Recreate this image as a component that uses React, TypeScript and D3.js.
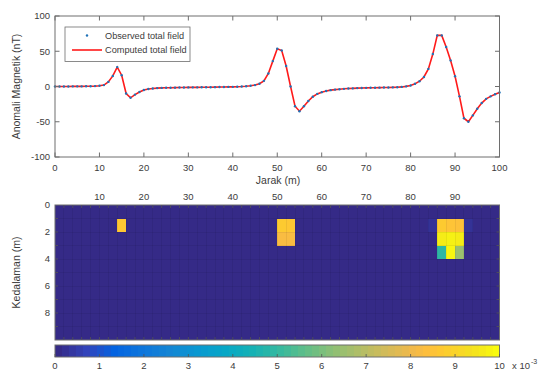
import * as d3 from 'd3';

// distance along profile (m), one reading per metre
const distance = d3.range(0, 101, 1);

const observedField = [
  0.1, 0.1, 0.1, 0.1, 0.2, 0.2, 0.2, 0.3, 0.4, 0.6,
  1.0, 2.0, 6.5, 15.0, 27.5, 16.0, -10.0, -16.0, -11.5, -7.8,
  -5.0, -3.6, -2.8, -2.3, -2.0, -1.8, -1.7, -1.6, -1.5, -1.4,
  -1.3, -1.2, -1.2, -1.1, -1.0, -1.0, -0.9, -0.8, -0.7, -0.6,
  -0.5, -0.3, -0.1, 0.3, 1.0, 2.0, 4.0, 8.0, 18.5, 36.0,
  53.5, 51.0, 29.0, 0.0, -28.0, -35.0, -28.0, -20.5, -14.5, -10.5,
  -8.0, -6.3, -5.2, -4.4, -3.8, -3.3, -2.9, -2.6, -2.3, -2.1,
  -1.9, -1.8, -1.7, -1.6, -1.5, -1.4, -1.2, -1.0, -0.6, 0.2,
  1.5, 3.8, 7.5, 13.5, 25.0, 46.0, 72.5, 72.5, 56.0, 37.0,
  14.5, -14.0, -45.0, -50.0, -41.0, -31.5, -23.5, -17.5, -14.0, -11.0,
  -8.5,
];
// computed field from the inversion (fits the observations)
const computedField = observedField.slice();

const xTicks = [0, 10, 20, 30, 40, 50, 60, 70, 80, 90, 100];
const yTicks = [-100, -50, 0, 50, 100];

// susceptibility model: 2 m x 1 m cells, background 0
const cellWidth = 2;
const cellDepth = 1;
const gridX = d3.range(0, 100, cellWidth);
const gridZ = d3.range(0, 10, cellDepth);
const anomalyX = [14, 84, 92, 50, 52, 50, 52, 86, 88, 90, 86, 88, 90, 86, 88, 90];
const anomalyZ = [1, 1, 1, 1, 1, 2, 2, 1, 1, 1, 2, 2, 2, 3, 3, 3];
const anomalyValue = [
  0.0087, 0.0002, 0.0002, 0.0088, 0.0087, 0.0083, 0.0083,
  0.0088, 0.0086, 0.0085, 0.0097, 0.0098, 0.0097, 0.0049, 0.0099, 0.0065,
];
const depthTicks = [0, 2, 4, 6, 8];
const topTicks = [10, 20, 30, 40, 50, 60, 70, 80, 90];
const colorTicks = [0, 1, 2, 3, 4, 5, 6, 7, 8, 9, 10];

// parula colormap samples
const parula = [
  '#352a87', '#3243ba', '#0363e1', '#0d75dc', '#1485d4', '#0998d1', '#06a7c6',
  '#15b1b4', '#38b99e', '#65be86', '#92bf73', '#b7bd64', '#d9ba56', '#f1b94a',
  '#fdbe3d', '#fec832', '#fad32a', '#f5de21', '#f5eb18', '#f9fb0e',
];
const parulaPos = [
  0, 4, 8, 12, 16, 20, 24, 28, 32, 36, 40, 44, 48, 51, 53, 55, 57, 59, 61, 63,
].map((i) => i / 63);

const font = '"Liberation Sans", Arial, sans-serif';
const ink = '#3c3c3c';
const frame = '#6e6e6e';

export default function App() {
  const left = 55;
  const right = 499.5;
  const top1 = 16;
  const bottom1 = 157;
  const top2 = 205;
  const bottom2 = 340;
  const cbTop = 345;
  const cbBottom = 357;
  const tick = 4.5;

  const x = d3.scaleLinear().domain([0, 100]).range([left, right]);
  const y = d3.scaleLinear().domain([-100, 100]).range([bottom1, top1]);
  const z = d3.scaleLinear().domain([0, 10]).range([top2, bottom2]);
  const color = d3
    .scaleLinear<string>()
    .domain(parulaPos.map((p) => p * 0.01))
    .range(parula)
    .clamp(true);
  const cb = d3.scaleLinear().domain([0, 10]).range([left, right]);

  const line = d3
    .line<number>()
    .x((_, i) => x(distance[i]))
    .y((d) => y(d));

  const cellValue = (gx: number, gz: number) => {
    for (let i = 0; i < anomalyX.length; i++) {
      if (anomalyX[i] === gx && anomalyZ[i] === gz) return anomalyValue[i];
    }
    return 0;
  };

  const cells: { gx: number; gz: number; v: number }[] = [];
  gridZ.forEach((gz) => gridX.forEach((gx) => cells.push({ gx, gz, v: cellValue(gx, gz) })));

  const steps = d3.range(64).map((i) => i / 63);

  return (
    <svg
      width={538}
      height={370}
      style={{ position: 'absolute', left: 0, top: 0, background: '#fff' }}
      fontFamily={font}
    >
      {/* ---------- magnetic profile ---------- */}
      <rect x={left} y={top1} width={right - left} height={bottom1 - top1} fill="#fff" />
      <path d={line(computedField) ?? ''} fill="none" stroke="#ff1a1a" strokeWidth={1.6} />
      {observedField.map((v, i) => (
        <circle key={i} cx={x(distance[i])} cy={y(v)} r={1.2} fill="#1f72b8" />
      ))}
      <rect
        x={left}
        y={top1}
        width={right - left}
        height={bottom1 - top1}
        fill="none"
        stroke={frame}
        strokeWidth={1}
      />
      {xTicks.map((t) => (
        <g key={t}>
          <line x1={x(t)} x2={x(t)} y1={bottom1} y2={bottom1 - tick} stroke={frame} />
          <line x1={x(t)} x2={x(t)} y1={top1} y2={top1 + tick} stroke={frame} />
          <text x={x(t)} y={171} textAnchor="middle" fontSize={9.5} fill={ink}>
            {t}
          </text>
        </g>
      ))}
      {yTicks.map((t) => (
        <g key={t}>
          <line x1={left} x2={left + tick} y1={y(t)} y2={y(t)} stroke={frame} />
          <line x1={right} x2={right - tick} y1={y(t)} y2={y(t)} stroke={frame} />
          <text x={50} y={y(t)} dy="0.35em" textAnchor="end" fontSize={9.5} fill={ink}>
            {t}
          </text>
        </g>
      ))}
      <text x={278} y={184} textAnchor="middle" fontSize={10.5} fill={ink}>
        Jarak (m)
      </text>
      <text
        transform={`translate(20,${(top1 + bottom1) / 2}) rotate(-90)`}
        textAnchor="middle"
        fontSize={10.5}
        fill={ink}
      >
        Anomali Magnetik (nT)
      </text>

      {/* legend */}
      <rect x={65} y={27} width={125} height={34.5} fill="#fff" stroke={frame} strokeWidth={0.8} />
      <circle cx={87} cy={35.5} r={1.2} fill="#1f72b8" />
      <line x1={72} x2={102} y1={50} y2={50} stroke="#ff1a1a" strokeWidth={1.6} />
      <text x={105} y={35.5} dy="0.35em" fontSize={9.2} fill={ink}>
        Observed total field
      </text>
      <text x={105} y={50} dy="0.35em" fontSize={9.2} fill={ink}>
        Computed total field
      </text>

      {/* ---------- susceptibility section ---------- */}
      <g shapeRendering="crispEdges">
        {cells.map((c, i) => (
          <rect
            key={i}
            x={x(c.gx)}
            y={z(c.gz)}
            width={x(c.gx + cellWidth) - x(c.gx) + 0.4}
            height={z(c.gz + cellDepth) - z(c.gz) + 0.4}
            fill={color(c.v)}
          />
        ))}
        {gridX.slice(1).map((t) => (
          <line
            key={t}
            x1={x(t)}
            x2={x(t)}
            y1={top2}
            y2={bottom2}
            stroke="#000"
            strokeOpacity={0.06}
          />
        ))}
        {gridZ.slice(1).map((t) => (
          <line
            key={t}
            x1={left}
            x2={right}
            y1={z(t)}
            y2={z(t)}
            stroke="#000"
            strokeOpacity={0.06}
          />
        ))}
      </g>
      <rect
        x={left}
        y={top2}
        width={right - left}
        height={bottom2 - top2}
        fill="none"
        stroke={frame}
        strokeWidth={1}
      />
      {gridX.slice(1).map((t) => (
        <g key={t}>
          <line x1={x(t)} x2={x(t)} y1={top2} y2={top2 + 3} stroke="#555" strokeWidth={0.8} />
          <line x1={x(t)} x2={x(t)} y1={bottom2} y2={bottom2 - 3} stroke="#555" strokeWidth={0.8} />
        </g>
      ))}
      {gridZ.slice(1).map((t) => (
        <g key={t}>
          <line x1={left} x2={left + 3} y1={z(t)} y2={z(t)} stroke="#555" strokeWidth={0.8} />
          <line x1={right} x2={right - 3} y1={z(t)} y2={z(t)} stroke="#555" strokeWidth={0.8} />
        </g>
      ))}
      {topTicks.map((t) => (
        <text key={t} x={x(t)} y={199.5} textAnchor="middle" fontSize={9.5} fill={ink}>
          {t}
        </text>
      ))}
      {depthTicks.map((t) => (
        <text key={t} x={50} y={z(t)} dy="0.35em" textAnchor="end" fontSize={9.5} fill={ink}>
          {t}
        </text>
      ))}
      <text
        transform={`translate(20,${(top2 + bottom2) / 2}) rotate(-90)`}
        textAnchor="middle"
        fontSize={10.5}
        fill={ink}
      >
        Kedalaman (m)
      </text>

      {/* ---------- colorbar ---------- */}
      <g shapeRendering="crispEdges">
        {steps.map((s, i) => (
          <rect
            key={i}
            x={left + ((right - left) * i) / 64}
            y={cbTop}
            width={(right - left) / 64 + 0.6}
            height={cbBottom - cbTop}
            fill={color(s * 0.01)}
          />
        ))}
      </g>
      <rect
        x={left}
        y={cbTop}
        width={right - left}
        height={cbBottom - cbTop}
        fill="none"
        stroke={frame}
        strokeWidth={1}
      />
      {colorTicks.map((t) => (
        <g key={t}>
          <line x1={cb(t)} x2={cb(t)} y1={cbBottom} y2={cbBottom - 3} stroke="#555" strokeWidth={0.8} />
          <text x={cb(t)} y={369} textAnchor="middle" fontSize={9.5} fill={ink}>
            {t}
          </text>
        </g>
      ))}
      <text x={512} y={369} fontSize={9.5} fill={ink}>
        x 10
      </text>
      <text x={531} y={364} fontSize={7} fill={ink}>
        -3
      </text>
    </svg>
  );
}
